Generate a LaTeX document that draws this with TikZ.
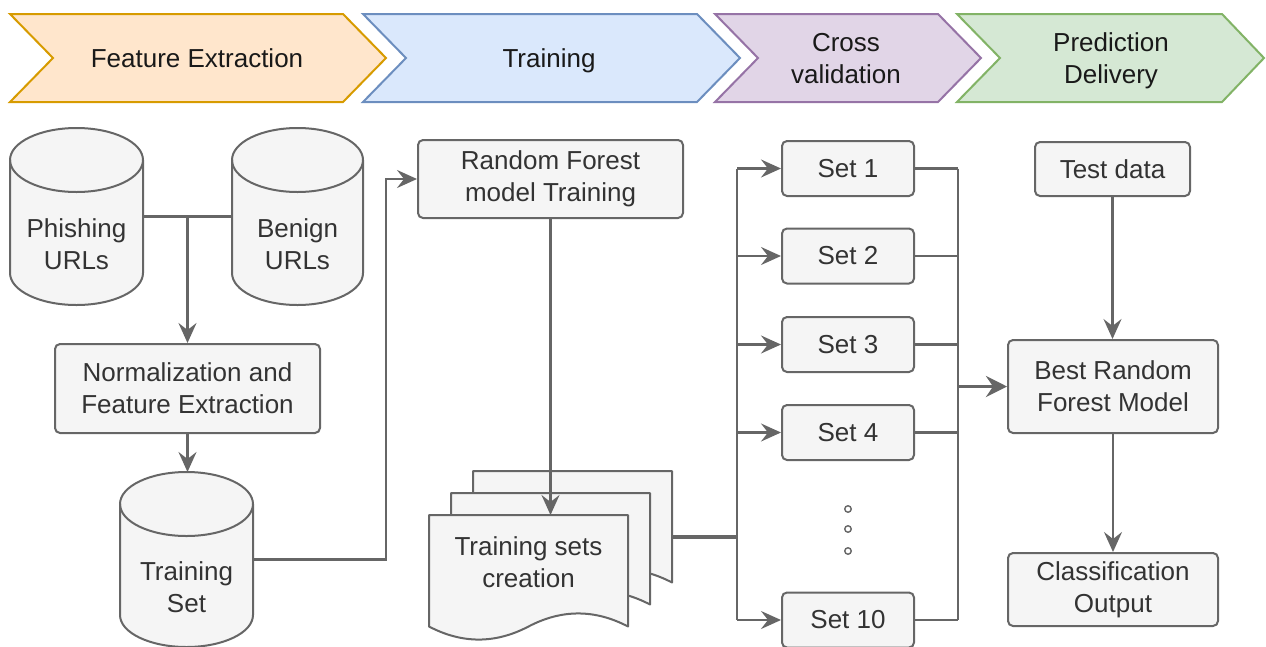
\documentclass[tikz,border=0pt]{standalone}
\usepackage{fontspec}
\setmainfont{Liberation Sans}
\usetikzlibrary{arrows.meta}

\definecolor{boxfill}{HTML}{F5F5F5}
\definecolor{boxline}{HTML}{666666}
\definecolor{boxtext}{HTML}{333333}
\definecolor{orfill}{HTML}{FFE6CC}\definecolor{orline}{HTML}{D79B00}
\definecolor{blfill}{HTML}{DAE8FC}\definecolor{blline}{HTML}{6C8EBF}
\definecolor{pufill}{HTML}{E1D5E7}\definecolor{puline}{HTML}{9673A6}
\definecolor{grfill}{HTML}{D5E8D4}\definecolor{grline}{HTML}{82B366}

\tikzset{
  txtfont/.style={font=\fontsize{26}{32}\selectfont},
  hdrtext/.style={txtfont, text=black!90, align=center, inner sep=0pt},
  lbl/.style={txtfont, text=boxtext, align=center, inner sep=0pt},
  procbox/.style={draw=boxline, fill=boxfill, line width=2pt, rounded corners=5pt,
    inner sep=0pt, lbl},
  solid shape/.style={draw=boxline, fill=boxfill, line width=2pt, line join=round},
  holder/.style={inner sep=0pt, outer sep=0pt},
  conn/.style={draw=boxline, line width=2.2pt},
  arr/.style={conn, -{Stealth[length=20pt, width=18pt, inset=7pt]}},
  heavy/.style={draw=boxline, line width=3.6pt},
  heavyarr/.style={heavy, -{Stealth[length=21pt, width=21pt, inset=7pt]}},
  dotmark/.style={circle, draw=boxline, fill=white, line width=1.4pt,
    minimum size=6.5pt, inner sep=0pt},
  banner/.style={line width=2pt, line join=miter},
}

% vertical cylinder: name, left x, right x, top y, bottom y, text
\newcommand\dbcyl[6]{%
  \pgfmathsetmacro\cylrx{(#3-#2)/2}%
  \pgfmathsetmacro\cylcx{(#3+#2)/2}%
  \pgfmathsetmacro\cylcy{(#4+#5)/2}%
  \pgfmathsetmacro\cylw{#3-#2}%
  \pgfmathsetmacro\cylh{#4-#5}%
  \path[solid shape] (#2,{#4-32}) -- (#2,{#5+32})
    arc[start angle=180, end angle=360, x radius=\cylrx, y radius=32]
    -- (#3,{#4-32})
    arc[start angle=0, end angle=180, x radius=\cylrx, y radius=32] -- cycle;
  \draw[solid shape, fill=none] (#2,{#4-32})
    arc[start angle=180, end angle=360, x radius=\cylrx, y radius=32];
  \node[holder, minimum width=\cylw pt, minimum height=\cylh pt] (#1) at (\cylcx,\cylcy) {};
  \node[lbl] at ([yshift=-27.5pt]#1.center) {#6};
}

% multi-sheet document page with wavy lower edge: left x, top y
\newcommand\docsheet[2]{%
  \draw[solid shape] (#1,#2) -- ({#1+199},#2) -- ({#1+199},{#2-111.5})
    .. controls ({#1+165.83},{#2-94.1}) and ({#1+132.67},{#2-94.1}) .. ({#1+99.5},{#2-111.5})
    .. controls ({#1+66.33},{#2-128.9}) and ({#1+33.17},{#2-128.9}) .. (#1,{#2-111.5})
    -- cycle;
}

\begin{document}
\begin{tikzpicture}[x=1pt, y=1pt]
\useasboundingbox (0,0) rectangle (1266,-646);

% ---- phase banner ----
\path[banner, fill=orfill, draw=orline]
  (10,-14) -- (343,-14) -- (386,-58) -- (343,-102) -- (10,-102) -- (53,-58) -- cycle;
\path[banner, fill=blfill, draw=blline]
  (363,-14) -- (697,-14) -- (740,-58) -- (697,-102) -- (363,-102) -- (406,-58) -- cycle;
\path[banner, fill=pufill, draw=puline]
  (715,-14) -- (938,-14) -- (981,-58) -- (938,-102) -- (715,-102) -- (758,-58) -- cycle;
\path[banner, fill=grfill, draw=grline]
  (957,-14) -- (1222,-14) -- (1264,-58) -- (1222,-102) -- (957,-102) -- (1000,-58) -- cycle;

\node[hdrtext] (h1) at (197,-58) {Feature Extraction};
\node[hdrtext] (h2) at (549,-61) {Training};
\node[hdrtext] (h3) at (846,-59) {Cross\\validation};
\node[hdrtext] (h4) at (1111,-61) {Prediction\\Delivery};

% ---- feature extraction ----
\dbcyl{phish}{10}{143}{-128}{-305}{Phishing\\URLs}
\dbcyl{benign}{232}{363}{-128}{-305}{Benign\\URLs}
\node[procbox, minimum width=265pt, minimum height=89pt] (norm) at (187.5,-388.5)
  {Normalization and\\Feature Extraction};
\dbcyl{tset}{120}{253}{-472}{-647}{Training\\Set}

% ---- training ----
\node[procbox, minimum width=265pt, minimum height=78pt] (rf) at (550.5,-179)
  {Random Forest\\model Training};
\docsheet{473}{-471}
\docsheet{451}{-493}
\docsheet{429}{-515}
\node[holder, minimum width=199pt, minimum height=126pt] (docback) at (572.5,-537) {};
\node[holder, minimum width=199pt, minimum height=126pt] (docfront) at (528.5,-578) {};
\node[lbl] (docs) at (528.5,-562) {Training sets\\creation};

% ---- cross validation ----
\foreach \n/\y in {1/-168.5, 2/-256, 3/-344.5, 4/-432.5, 10/-620}
  \node[procbox, minimum width=132pt, minimum height=55pt] (set\n) at (848,\y) {Set \n};
\node[dotmark] (dot1) at (848,-509) {};
\node[dotmark] (dot2) at (848,-529) {};
\node[dotmark] (dot3) at (848,-551) {};

% ---- prediction ----
\node[procbox, minimum width=155pt, minimum height=54pt] (test) at (1112.5,-169) {Test data};
\node[procbox, minimum width=210pt, minimum height=93pt] (best) at (1113,-386.5)
  {Best Random\\Forest Model};
\node[procbox, minimum width=210pt, minimum height=73pt] (cls) at (1113,-589.5)
  {Classification\\Output};

% ---- connectors ----
\coordinate (bendA) at (386,0);
\coordinate (busL) at (737,0);
\coordinate (busR) at (958,0);

\draw[conn] (phish.east) -- (benign.west);
\draw[arr] (phish.east -| norm.north) -- (norm.north);
\draw[arr] (norm.south) -- (norm.south |- tset.north);
\draw[arr] (tset.east) -| (bendA |- rf.west) -- (rf.west);
\draw[arr] (rf.south) -- (rf.south |- docfront.north);

\draw[heavy] (docback.east) -- (busL |- docback.east);
\draw[conn] (busL |- set1.west) -- (busL |- set10.west);
\foreach \n in {1,2,3,4,10}
  \draw[arr] (busL |- set\n.west) -- (set\n.west);
\foreach \n in {1,2,3,4,10}
  \draw[conn] (set\n.east) -- (busR |- set\n.east);
\draw[conn] (busR |- set1.east) -- (busR |- set10.east);
\draw[heavyarr] (busR |- best.west) -- (best.west);

\draw[arr] (test.south) -- (test.south |- best.north);
\draw[arr] (best.south) -- (cls.north);
\end{tikzpicture}
\end{document}
